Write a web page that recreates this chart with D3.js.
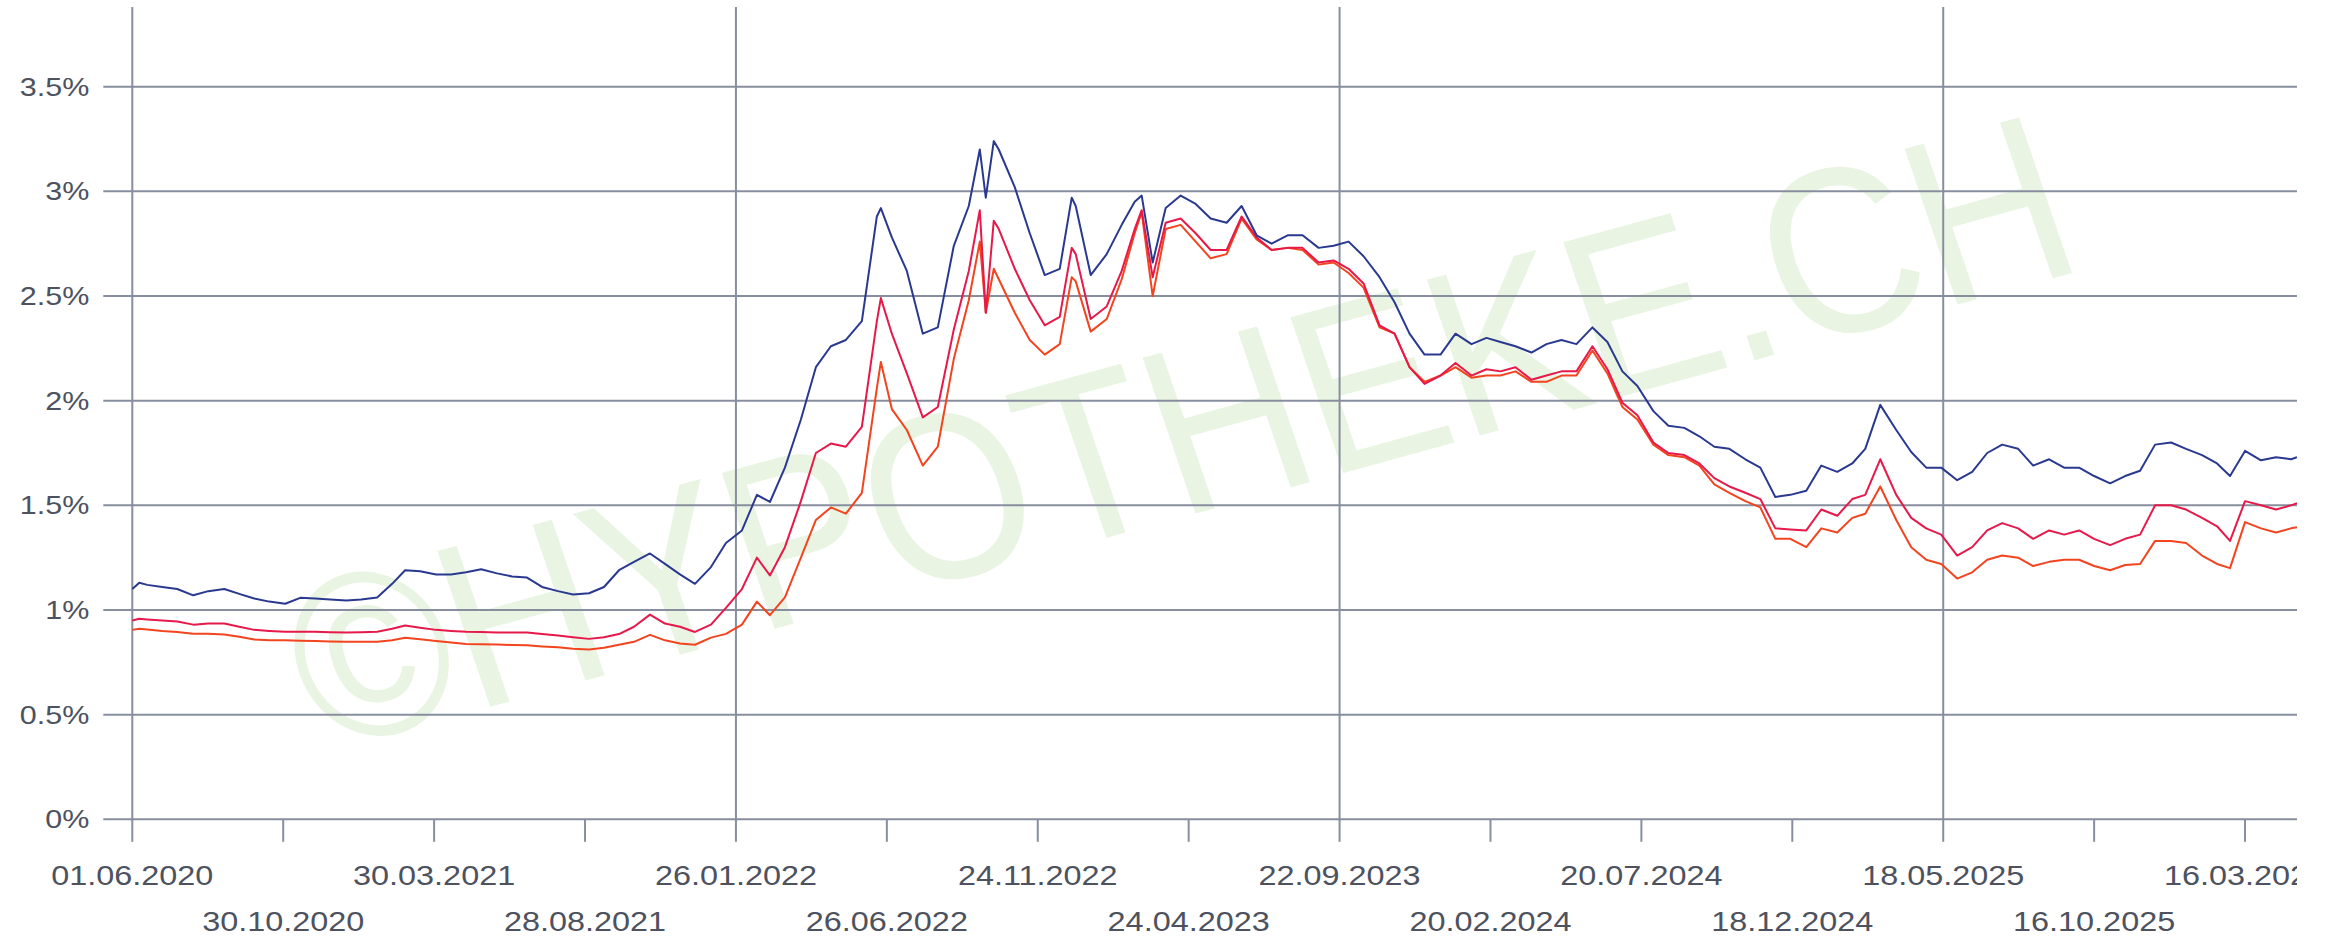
<!DOCTYPE html>
<html>
<head>
<meta charset="utf-8">
<script src="https://cdn.jsdelivr.net/npm/d3@7/dist/d3.min.js"></script>
<style>
    html, body { margin: 0; padding: 0; background: #fff; overflow: hidden; }
    svg { display: block; }
</style>
</head>
<body>
<div id="chart"></div>
<script>
    // Values (percent), roughly twice a month plus the sharp turns
    var dates = [
        "2020-06-01", "2020-06-08", "2020-06-16", "2020-07-01", "2020-07-16", "2020-08-01", "2020-08-16", "2020-09-01",
        "2020-09-16", "2020-10-01", "2020-10-16", "2020-11-01", "2020-11-16", "2020-12-01", "2020-12-16", "2021-01-01",
        "2021-01-16", "2021-02-01", "2021-02-16", "2021-03-01", "2021-03-16", "2021-04-01", "2021-04-16", "2021-05-01",
        "2021-05-16", "2021-06-01", "2021-06-16", "2021-07-01", "2021-07-16", "2021-08-01", "2021-08-16", "2021-09-01",
        "2021-09-16", "2021-10-01", "2021-10-16", "2021-11-01", "2021-11-16", "2021-12-01", "2021-12-16", "2022-01-01",
        "2022-01-16", "2022-02-01", "2022-02-16", "2022-03-01", "2022-03-16", "2022-04-01", "2022-04-16", "2022-05-01",
        "2022-05-16", "2022-06-01", "2022-06-16", "2022-06-20", "2022-07-01", "2022-07-16", "2022-08-01", "2022-08-16",
        "2022-09-01", "2022-09-16", "2022-09-27", "2022-10-03", "2022-10-11", "2022-10-16", "2022-11-01", "2022-11-16",
        "2022-12-01", "2022-12-16", "2022-12-28", "2023-01-01", "2023-01-16", "2023-02-01", "2023-02-16", "2023-03-01",
        "2023-03-08", "2023-03-19", "2023-04-01", "2023-04-16", "2023-05-01", "2023-05-16", "2023-06-01", "2023-06-16",
        "2023-07-01", "2023-07-16", "2023-08-01", "2023-08-16", "2023-09-01", "2023-09-16", "2023-10-01", "2023-10-16",
        "2023-11-01", "2023-11-16", "2023-12-01", "2023-12-16", "2024-01-01", "2024-01-16", "2024-02-01", "2024-02-16",
        "2024-03-01", "2024-03-16", "2024-04-01", "2024-04-16", "2024-05-01", "2024-05-16", "2024-06-01", "2024-06-16",
        "2024-07-01", "2024-07-16", "2024-08-01", "2024-08-16", "2024-09-01", "2024-09-16", "2024-10-01", "2024-10-16",
        "2024-11-01", "2024-11-16", "2024-12-01", "2024-12-16", "2025-01-01", "2025-01-16", "2025-02-01", "2025-02-16",
        "2025-03-01", "2025-03-16", "2025-04-01", "2025-04-16", "2025-05-01", "2025-05-16", "2025-06-01", "2025-06-16",
        "2025-07-01", "2025-07-16", "2025-08-01", "2025-08-16", "2025-09-01", "2025-09-16", "2025-10-01", "2025-10-16",
        "2025-11-01", "2025-11-16", "2025-12-01", "2025-12-16", "2026-01-01", "2026-01-16", "2026-02-01", "2026-02-16",
        "2026-03-01", "2026-03-16", "2026-04-01", "2026-04-16", "2026-05-01", "2026-05-07"
    ];

    var navyValues = [
        1.10, 1.13, 1.12, 1.11, 1.10, 1.07, 1.09, 1.10,
        1.077, 1.055, 1.04, 1.03, 1.058, 1.055, 1.05, 1.045,
        1.05, 1.06, 1.125, 1.19, 1.185, 1.17, 1.17, 1.18,
        1.195, 1.175, 1.16, 1.155, 1.11, 1.09, 1.074, 1.08,
        1.11, 1.19, 1.23, 1.27, 1.22, 1.17, 1.125, 1.205,
        1.32, 1.38, 1.55, 1.516, 1.68, 1.91, 2.16, 2.26,
        2.29, 2.38, 2.88, 2.92, 2.78, 2.62, 2.32, 2.35,
        2.74, 2.93, 3.20, 2.97, 3.24, 3.20, 3.02, 2.80,
        2.60, 2.63, 2.97, 2.93, 2.60, 2.70, 2.84, 2.95,
        2.98, 2.66, 2.92, 2.98, 2.94, 2.87, 2.85, 2.93,
        2.79, 2.75, 2.79, 2.79, 2.73, 2.74, 2.76, 2.69,
        2.59, 2.47, 2.32, 2.22, 2.22, 2.32, 2.27, 2.30,
        2.28, 2.26, 2.23, 2.27, 2.29, 2.27, 2.35, 2.28,
        2.14, 2.07, 1.95, 1.88, 1.87, 1.83, 1.78, 1.77,
        1.72, 1.68, 1.54, 1.55, 1.57, 1.69, 1.66, 1.70,
        1.77, 1.98, 1.86, 1.755, 1.68, 1.68, 1.62, 1.66,
        1.75, 1.79, 1.77, 1.69, 1.72, 1.68, 1.68, 1.64,
        1.605, 1.64, 1.665, 1.79, 1.80, 1.77, 1.74, 1.70,
        1.64, 1.76, 1.715, 1.73, 1.72, 1.73
    ];

    var crimsonValues = [
        0.95, 0.958, 0.955, 0.95, 0.945, 0.93, 0.935, 0.935,
        0.92, 0.905, 0.90, 0.896, 0.896, 0.896, 0.894, 0.893,
        0.894, 0.896, 0.91, 0.926, 0.915, 0.905, 0.90, 0.896,
        0.895, 0.893, 0.893, 0.893, 0.885, 0.878, 0.87, 0.862,
        0.87, 0.885, 0.92, 0.978, 0.935, 0.92, 0.895, 0.93,
        1.01, 1.10, 1.25, 1.165, 1.30, 1.52, 1.75, 1.795,
        1.78, 1.875, 2.38, 2.49, 2.32, 2.13, 1.92, 1.97,
        2.34, 2.62, 2.91, 2.42, 2.86, 2.82, 2.63, 2.48,
        2.36, 2.40, 2.73, 2.70, 2.39, 2.45, 2.62, 2.82,
        2.91, 2.59, 2.85, 2.87, 2.80, 2.72, 2.72, 2.88,
        2.78, 2.72, 2.73, 2.73, 2.66, 2.67, 2.63, 2.56,
        2.36, 2.32, 2.16, 2.08, 2.12, 2.18, 2.12, 2.15,
        2.14, 2.16, 2.10, 2.12, 2.14, 2.14, 2.26, 2.15,
        1.99, 1.93, 1.80, 1.75, 1.74, 1.70, 1.63, 1.59,
        1.56, 1.53, 1.39, 1.385, 1.38, 1.48, 1.45, 1.53,
        1.55, 1.72, 1.55, 1.44, 1.39, 1.36, 1.26, 1.30,
        1.38, 1.415, 1.39, 1.34, 1.38, 1.36, 1.38, 1.34,
        1.31, 1.34, 1.36, 1.50, 1.50, 1.48, 1.44, 1.40,
        1.33, 1.52, 1.50, 1.48, 1.50, 1.51
    ];

    var orangeValues = [
        0.905, 0.91, 0.907, 0.90, 0.895, 0.886, 0.886, 0.883,
        0.872, 0.859, 0.856, 0.855, 0.853, 0.852, 0.85, 0.848,
        0.848, 0.848, 0.855, 0.867, 0.86, 0.852, 0.845, 0.838,
        0.836, 0.835, 0.833, 0.831, 0.826, 0.822, 0.815, 0.811,
        0.82, 0.834, 0.848, 0.881, 0.855, 0.84, 0.834, 0.868,
        0.886, 0.93, 1.04, 0.975, 1.06, 1.25, 1.43, 1.49,
        1.46, 1.56, 2.06, 2.185, 1.96, 1.86, 1.69, 1.78,
        2.20, 2.48, 2.76, 2.42, 2.63, 2.58, 2.42, 2.29,
        2.22, 2.27, 2.59, 2.57, 2.33, 2.39, 2.58, 2.80,
        2.90, 2.50, 2.82, 2.84, 2.76, 2.68, 2.70, 2.87,
        2.77, 2.72, 2.73, 2.72, 2.65, 2.66, 2.61, 2.54,
        2.35, 2.32, 2.16, 2.09, 2.12, 2.16, 2.11, 2.12,
        2.12, 2.14, 2.09, 2.09, 2.12, 2.12, 2.24, 2.13,
        1.97, 1.91, 1.79, 1.74, 1.73, 1.69, 1.60, 1.56,
        1.52, 1.49, 1.34, 1.34, 1.30, 1.39, 1.37, 1.44,
        1.46, 1.59, 1.43, 1.30, 1.24, 1.22, 1.15, 1.18,
        1.24, 1.26, 1.25, 1.21, 1.23, 1.24, 1.24, 1.21,
        1.19, 1.215, 1.22, 1.33, 1.33, 1.32, 1.26, 1.22,
        1.20, 1.42, 1.39, 1.37, 1.39, 1.395
    ];

    var yTicks = [0, 0.5, 1, 1.5, 2, 2.5, 3, 3.5];
    var xTickLabels = [
        "01.06.2020", "30.10.2020", "30.03.2021", "28.08.2021", "26.01.2022",
        "26.06.2022", "24.11.2022", "24.04.2023", "22.09.2023", "20.02.2024",
        "20.07.2024", "18.12.2024", "18.05.2025", "16.10.2025", "16.03.2026"
    ];
    var domainStart = "2020-06-01", domainEnd = "2026-05-07";

    var vWidth = 2297, vHeight = 937;
    var gridColor = "#878e9e", textColor = "#4d525e";
    var font = "'Liberation Sans', Arial, sans-serif";

    var parseIso = d3.timeParse("%Y-%m-%d");
    var parseLabel = d3.timeParse("%d.%m.%Y");

    var x = d3.scaleTime()
        .domain([parseIso(domainStart), parseIso(domainEnd)])
        .range([132.3, vWidth]);
    var y = d3.scaleLinear().domain([0, 3.5]).range([819.3, 86.7]);
    var yTop = 7;

    var svg = d3.select("#chart").append("svg")
        .attr("width", vWidth).attr("height", vHeight);

    // watermark, slanted and a bit sheared like the original
    svg.append("text")
        .attr("transform", "matrix(2.047,-0.561,0.768,2.26,322.7,752.5)")
        .attr("font-family", font)
        .attr("font-size", 100)
        .attr("fill", "#e9f4e3")
        .text("\u00A9HYPOTHEKE.CH");

    // horizontal grid
    svg.append("g").selectAll("line").data(yTicks).enter().append("line")
        .attr("x1", 103.3).attr("x2", vWidth)
        .attr("y1", d => y(d)).attr("y2", d => y(d))
        .attr("stroke", gridColor).attr("stroke-width", 2);

    svg.append("g").selectAll("text").data(yTicks).enter().append("text")
        .attr("transform", d => "translate(89.3," + (y(d) + 9) + ") scale(1.22,1)")
        .attr("text-anchor", "end")
        .attr("font-family", font).attr("font-size", 25)
        .attr("fill", textColor)
        .text(d => d + "%");

    // x ticks, every 4th one also gets a full height grid line
    var tickDates = xTickLabels.map(parseLabel);
    var xt = svg.append("g");
    xt.selectAll("line.grid").data(tickDates.filter((d, i) => i % 4 === 0)).enter().append("line")
        .attr("class", "grid")
        .attr("x1", d => x(d)).attr("x2", d => x(d))
        .attr("y1", yTop).attr("y2", y(0))
        .attr("stroke", gridColor).attr("stroke-width", 2);
    xt.selectAll("line.tick").data(tickDates).enter().append("line")
        .attr("class", "tick")
        .attr("x1", d => x(d)).attr("x2", d => x(d))
        .attr("y1", y(0)).attr("y2", y(0) + 22.5)
        .attr("stroke", gridColor).attr("stroke-width", 2);
    xt.selectAll("text").data(tickDates).enter().append("text")
        .attr("transform", (d, i) => "translate(" + x(d) + "," + (i % 2 === 0 ? 885 : 930.5) + ") scale(1.2,1)")
        .attr("text-anchor", "middle")
        .attr("font-family", font).attr("font-size", 27)
        .attr("fill", textColor)
        .text((d, i) => xTickLabels[i]);

    // series
    var series = [
        {values: orangeValues, color: "#f2441f"},
        {values: crimsonValues, color: "#e6194a"},
        {values: navyValues, color: "#2a3990"}
    ];
    var parsedDates = dates.map(parseIso);
    var line = d3.line()
        .x((d, i) => x(parsedDates[i]))
        .y(d => y(d));

    svg.append("g").selectAll("path").data(series).enter().append("path")
        .attr("d", d => line(d.values))
        .attr("fill", "none")
        .attr("stroke", d => d.color)
        .attr("stroke-width", 2)
        .attr("stroke-linejoin", "round");
</script>
</body>
</html>
